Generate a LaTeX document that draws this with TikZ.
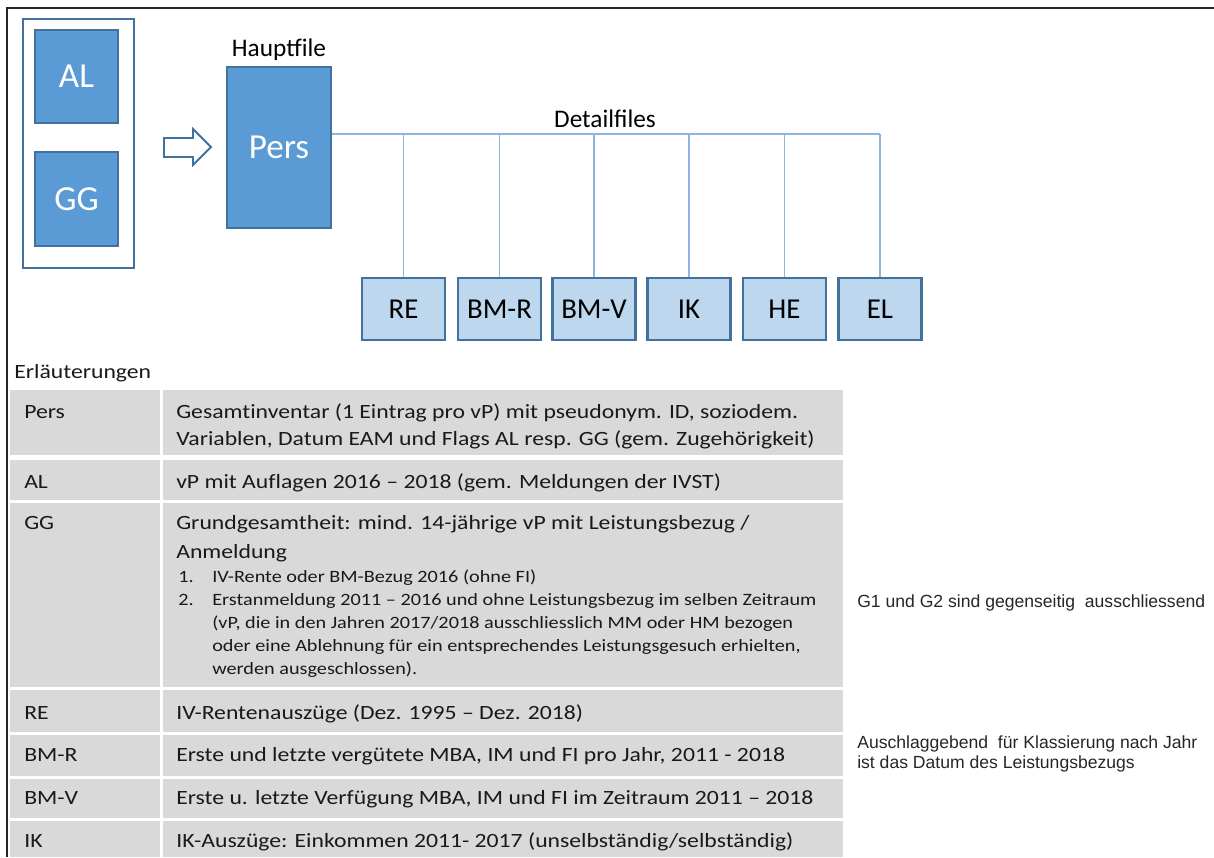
\documentclass[tikz,border=0pt]{standalone}
\usepackage{fontspec}
\setmainfont{Carlito}
\newfontfamily\tabfont[FakeStretch=1.17,Ligatures=NoCommon]{Carlito}
\newfontfamily\notefont{Liberation Sans}
\usetikzlibrary{positioning}
\definecolor{boxblue}{RGB}{91,155,213}
\definecolor{boxedge}{RGB}{65,113,156}
\definecolor{lightblue}{RGB}{189,215,238}
\definecolor{busblue}{RGB}{143,180,222}
\definecolor{cellgray}{RGB}{217,217,217}
\begin{document}
\begin{tikzpicture}[x=0.025cm,y=-0.025cm]
\tikzstyle{bigbox}=[draw=boxedge,line width=1.4pt,fill=boxblue,text=white,inner sep=0pt,font=\fontsize{25}{30}\selectfont]
\tikzstyle{filebox}=[draw=boxedge,line width=2pt,fill=lightblue,inner sep=0pt,minimum width=2.075cm,minimum height=1.55cm,font=\fontsize{20.5}{24}\selectfont]
\tikzstyle{bus}=[draw=busblue,line width=0.8pt]
\tikzstyle{keytext}=[anchor=base west,inner sep=0pt,text=black!90,font=\tabfont\fontsize{14.4}{17}\selectfont]
\tikzstyle{subtext}=[anchor=base west,inner sep=0pt,text=black!90,font=\tabfont\fontsize{12.3}{14}\selectfont]
\tikzstyle{notetext}=[anchor=base west,inner sep=0pt,text=black!85,font=\notefont\fontsize{12.5}{15}\selectfont]

\useasboundingbox (0,0) rectangle (1214,857);
\draw[black!85,line width=0.9pt] (7,857) -- (7,8) -- (1214,8); % frame

% AL and GG
\node[draw=boxedge,line width=1.4pt,fill=white,minimum width=2.775cm,minimum height=6.225cm] (grp) at (78.5,143.5) {};
\node[bigbox,minimum width=2.075cm,minimum height=2.33cm] (al) at (76.5,76.5) {AL};
\node[bigbox,minimum width=2.075cm,minimum height=2.33cm] (gg) at (76.5,199) {GG};

\draw[draw=boxedge,line width=1.4pt,fill=white] (164,138) -- (193,138) -- (193,129) -- (211,147) -- (193,165) -- (193,157) -- (164,157) -- cycle;

% main file
\node[bigbox,minimum width=2.6cm,minimum height=4.025cm] (pers) at (279,147.5) {Pers};
\node[inner sep=0pt,font=\fontsize{18}{22}\selectfont,above=0.12cm of pers] (haupt) {Hauptfile};

% detail files
\def \busy{134}
\coordinate (busend) at (880,\busy);
\node[anchor=base,inner sep=0pt,font=\fontsize{18}{22}\selectfont] (detail) at (605,127) {Detailfiles};
\foreach \n/\x/\t in {re/403.5/RE, bmr/499.5/BM-R, bmv/594/BM-V, ik/689/IK, he/784.5/HE, el/880/EL}{
  \node[filebox] (\n) at (\x,309) {\t};
  \draw[bus] (\n.north) -- (\n.north |- busend);
}
\draw[bus] (pers.east |- busend) -- (busend);

% legend table
\node[keytext] (legend) at (14,378) {Erläuterungen};
\foreach \ya/\yb in {390/455,460/500,503/687,690/732,735/776,779/818,821/857}{
  \fill[cellgray] (10,\ya) rectangle (160,\yb);
  \fill[cellgray] (163,\ya) rectangle (843,\yb);
}
\foreach \k/\yb in {Pers/418,AL/488,GG/529,RE/719,BM-R/761,BM-V/804,IK/847}
  \node[keytext] (key\k) at (24,\yb) {\k};

\node[keytext] (pers1) at (176,418) {Gesamtinventar (1 Eintrag pro vP) mit pseudonym. ID, soziodem.};
\node[keytext] (pers2) at (176,445) {Variablen, Datum EAM und Flags AL resp. GG (gem. Zugehörigkeit)};
\node[keytext] (al1) at (176,488) {vP mit Auflagen 2016 – 2018 (gem. Meldungen der IVST)};
\node[keytext] (gg1) at (176,529) {Grundgesamtheit: mind. 14-jährige vP mit Leistungsbezug /};
\node[keytext] (gg2) at (176,558) {Anmeldung};
\node[subtext] (num1) at (178,582) {1.};
\node[subtext] (gga) at (212,582) {IV-Rente oder BM-Bezug 2016 (ohne FI)};
\node[subtext] (num2) at (178,605) {2.};
\node[subtext] (ggb) at (212,605) {Erstanmeldung 2011 – 2016 und ohne Leistungsbezug im selben Zeitraum};
\node[subtext] (ggc) at (212,628) {(vP, die in den Jahren 2017/2018 ausschliesslich MM oder HM bezogen};
\node[subtext] (ggd) at (212,651) {oder eine Ablehnung für ein entsprechendes Leistungsgesuch erhielten,};
\node[subtext] (gge) at (212,674) {werden ausgeschlossen).};
\node[keytext] (re1) at (176,719) {IV-Rentenauszüge (Dez. 1995 – Dez. 2018)};
\node[keytext] (bmr1) at (176,761) {Erste und letzte vergütete MBA, IM und FI pro Jahr, 2011 - 2018};
\node[keytext] (bmv1) at (176,804) {Erste u. letzte Verfügung MBA, IM und FI im Zeitraum 2011 – 2018};
\node[keytext] (ik1) at (176,847) {IK-Auszüge: Einkommen 2011- 2017 (unselbständig/selbständig)};

% notes
\node[notetext] (note1) at (857,607) {G1 und G2 sind gegenseitig\ \ ausschliessend};
\node[notetext] (note2) at (857,748) {Auschlaggebend\ \ für Klassierung nach Jahr};
\node[notetext] (note3) at (857,768) {ist das Datum des Leistungsbezugs};

\end{tikzpicture}
\end{document}
